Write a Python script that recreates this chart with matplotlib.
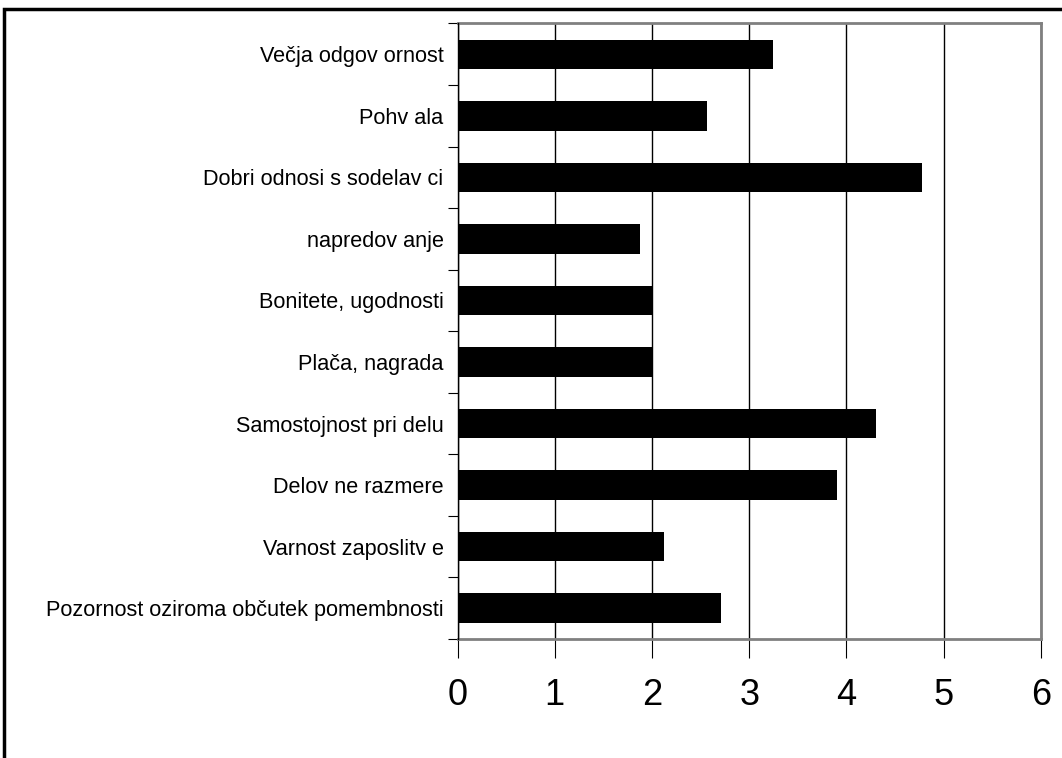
import matplotlib
matplotlib.use('Agg')
import matplotlib.pyplot as plt
from matplotlib.patches import Rectangle

plt.rcParams['font.family'] = ['Liberation Sans', 'DejaVu Sans']

categories = [
    "Pozornost oziroma občutek pomembnosti",
    "Varnost zaposlitv e",
    "Delov ne razmere",
    "Samostojnost pri delu",
    "Plača, nagrada",
    "Bonitete, ugodnosti",
    "napredov anje",
    "Dobri odnosi s sodelav ci",
    "Pohv ala",
    "Večja odgov ornost",
]
values = [2.71, 2.12, 3.90, 4.30, 2.00, 2.00, 1.88, 4.78, 2.57, 3.24]
x_ticks = [0, 1, 2, 3, 4, 5, 6]

fig = plt.figure(figsize=(10.62, 7.58), dpi=100)
ax = fig.add_axes([0.4308, 0.157, 0.5494, 0.812])

ypos = list(range(len(categories)))
ax.barh(ypos, values, height=0.48, color='black', zorder=3)

ax.set_xlim(0, 6)
ax.set_ylim(-0.5, len(categories) - 0.5)
ax.set_xticks(x_ticks)
ax.set_xticklabels([str(t) for t in x_ticks], fontsize=26,
                   family=['Liberation Sans Narrow', 'Liberation Sans', 'DejaVu Sans'])
ax.tick_params(axis='x', length=14, width=0.8, color='black', pad=14)

# category labels sit between boundary ticks
ax.set_yticks(ypos)
ax.set_yticklabels(categories, fontsize=15.6)
ax.tick_params(axis='y', length=0, pad=10)
ax.set_yticks([y + 0.5 for y in ypos[:-1]] + [-0.5, len(categories) - 0.5], minor=True)
ax.tick_params(axis='y', which='minor', length=7, width=0.8, color='black')

ax.grid(axis='x', color='black', linewidth=1.0, zorder=1)
ax.set_axisbelow(True)

for side in ('top', 'right', 'bottom'):
    ax.spines[side].set_color('#808080')
    ax.spines[side].set_linewidth(2.0)
ax.spines['left'].set_color('black')
ax.spines['left'].set_linewidth(1.0)
ax.spines['left'].set_zorder(4)

# outer chart frame
fig.patches.append(Rectangle((4 / 1062, -0.05), 1.1, 0.05 + (758 - 9) / 758,
                             transform=fig.transFigure, fill=False,
                             edgecolor='black', linewidth=2.5))

fig.savefig('out.png', dpi=100)
plt.close(fig)
